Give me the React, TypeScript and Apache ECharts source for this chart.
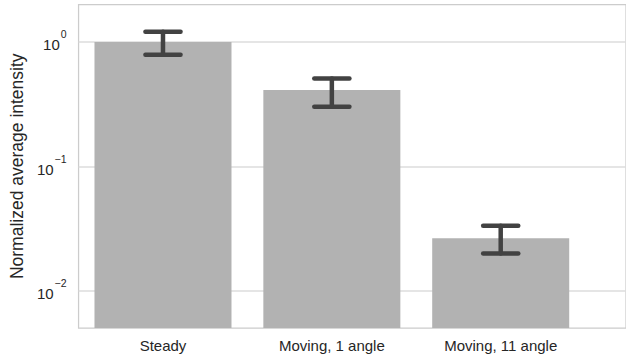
import React, { useEffect, useRef } from "react";
import * as echarts from "echarts";

const categories = ["Steady", "Moving, 1 angle", "Moving, 11 angle"];
const means = [1.0, 0.41, 0.0264];
const errLow = [0.789, 0.301, 0.0199];
const errHigh = [1.208, 0.509, 0.0332];

const FONT = "'Liberation Sans', Arial, sans-serif";
const TEXT = "#262626";

export default function App() {
  const ref = useRef<HTMLDivElement>(null);
  useEffect(() => {
    if (!ref.current) return;
    const chart = echarts.init(ref.current, null, { renderer: "svg" });
    const barData = means.map((v, i) => [i, v]);
    const errData = means.map((_, i) => [i, errLow[i], errHigh[i]]);
    chart.setOption({
      animation: false,
      backgroundColor: "#ffffff",
      textStyle: { fontFamily: FONT },
      grid: {
        left: 74,
        top: 4.5,
        right: -2,
        bottom: 34,
        show: true,
        borderColor: "#cccccc",
        borderWidth: 1.25,
        backgroundColor: "transparent",
      },
      xAxis: {
        type: "value",
        min: -0.5,
        max: 2.742,
        interval: 0.5,
        axisLine: { show: false },
        axisTick: { show: false },
        splitLine: { show: false },
        axisLabel: {
          color: TEXT,
          fontSize: 15,
          fontFamily: FONT,
          margin: 10,
          showMaxLabel: false,
          formatter: (v: number) => {
            const r = Math.round(v);
            if (Math.abs(v - r) > 1e-6 || r < 0 || r >= categories.length) return "";
            return categories[r];
          },
        },
      },
      yAxis: {
        type: "log",
        logBase: 10,
        min: 0.005,
        max: 2,
        startValue: 0.005,
        name: "Normalized average intensity",
        nameLocation: "middle",
        nameGap: 51,
        nameTextStyle: { color: TEXT, fontSize: 17.5, fontFamily: FONT },
        axisLine: { show: false },
        axisTick: { show: false },
        splitLine: {
          show: true,
          showMinLine: false,
          showMaxLine: false,
          lineStyle: { color: "#dcdcdc", width: 1.5 },
        },
        axisLabel: {
          showMinLabel: false,
          showMaxLabel: false,
          margin: 12,
          color: TEXT,
          fontFamily: FONT,
          formatter: (v: number) => {
            const e = Math.log10(v);
            const r = Math.round(e);
            if (Math.abs(e - r) > 1e-6) return "";
            const s = r < 0 ? "\u2212" + String(-r) : String(r);
            return "{b|10}{s|" + s + "}";
          },
          rich: {
            b: { fontSize: 15, lineHeight: 15, padding: [6, 0, 0, 0], color: TEXT, fontFamily: FONT },
            s: { fontSize: 10.5, lineHeight: 10, padding: [0, 0, 15, 1], color: TEXT, fontFamily: FONT },
          },
        },
      },
      series: [
        {
          type: "bar",
          data: barData,
          barWidth: 137,
          itemStyle: { color: "#b2b2b2" },
          silent: true,
        },
        {
          type: "custom",
          data: errData,
          encode: { x: 0, y: [1, 2] },
          silent: true,
          z: 10,
          renderItem: (params: any, api: any) => {
            const x = api.value(0);
            const lo = api.coord([x, api.value(1)]);
            const hi = api.coord([x, api.value(2)]);
            const half = api.size([0.104, 0])[0];
            const style = { stroke: "#424242", lineWidth: 4.5, lineCap: "round" };
            return {
              type: "group",
              children: [
                { type: "line", shape: { x1: lo[0], y1: lo[1], x2: hi[0], y2: hi[1] }, style },
                { type: "line", shape: { x1: lo[0] - half, y1: lo[1], x2: lo[0] + half, y2: lo[1] }, style },
                { type: "line", shape: { x1: hi[0] - half, y1: hi[1], x2: hi[0] + half, y2: hi[1] }, style },
              ],
            };
          },
        },
      ],
    });
    return () => chart.dispose();
  }, []);
  return (
    <div
      ref={ref}
      style={{ position: "fixed", left: 0, top: 0, width: 626, height: 362 }}
    />
  );
}
